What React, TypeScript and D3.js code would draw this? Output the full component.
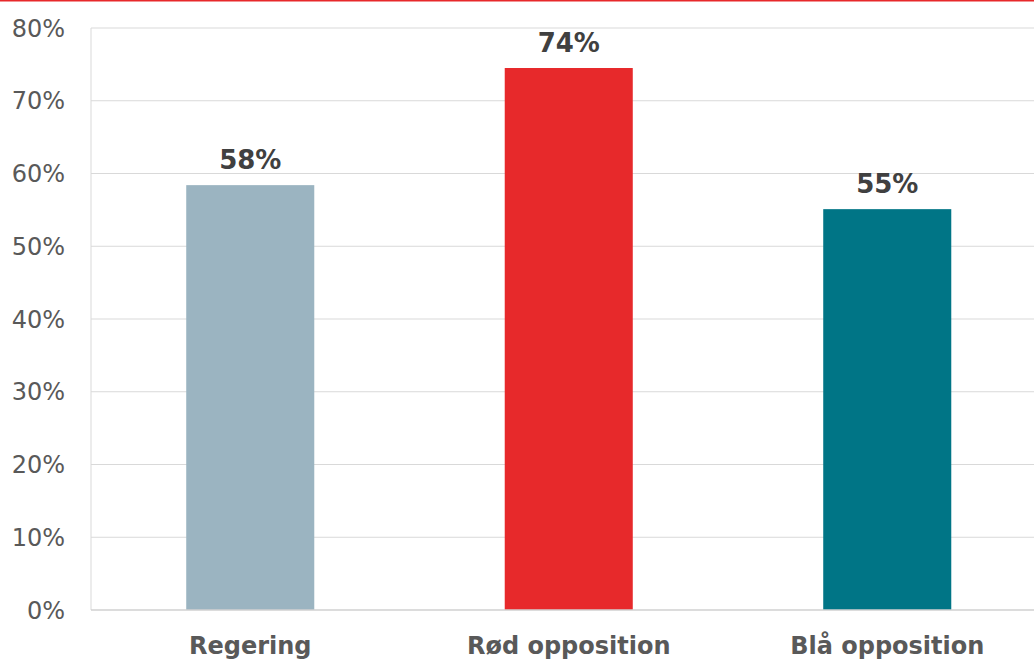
import React from "react";
import * as d3 from "d3";

const categories = ["Regering", "Rød opposition", "Blå opposition"];
const values = [58.4, 74.5, 55.1];
const valueLabels = ["58%", "74%", "55%"];
const colors = ["#9BB4C1", "#E7292B", "#007586"];
const yTicks = [0, 10, 20, 30, 40, 50, 60, 70, 80];

export default function App() {
  const W = 1034, H = 662;
  const left = 91, right = 1046.5, top = 28, bottom = 610;
  const x = d3.scaleBand<string>().domain(categories).range([left, right]).paddingInner(0.598).paddingOuter(0.299);
  const y = d3.scaleLinear().domain([0, 80]).range([bottom, top]);
  const font = "Tahoma, 'DejaVu Sans', Verdana, sans-serif";
  return (
    <svg width={W} height={H} style={{ position: "absolute", left: 0, top: 0 }}>
      <rect x={0} y={0} width={W} height={H} fill="#fff" />
      <line x1={0} x2={W} y1={0.75} y2={0.75} stroke="#E7292B" strokeWidth={1.5} />
      {yTicks.map((t) => (
        <g key={t}>
          {t > 0 && (
            <line x1={left} x2={W} y1={y(t)} y2={y(t)} stroke="#D9D9D9" strokeWidth={1} />
          )}
          <text x={65} y={y(t)} dy="0.36em" textAnchor="end" fontFamily={font} fontSize={24} fill="#595959">
            {t}%
          </text>
        </g>
      ))}
      <line x1={left} x2={left} y1={top} y2={bottom} stroke="#D9D9D9" />
      {categories.map((c, i) => (
        <g key={c}>
          <rect x={x(c)} y={y(values[i])} width={x.bandwidth()} height={bottom - y(values[i])} fill={colors[i]} />
          <text x={(x(c) as number) + x.bandwidth() / 2} y={y(values[i]) - 16} textAnchor="middle" fontFamily={font} fontWeight="bold" fontSize={26} fill="#404040">
            {valueLabels[i]}
          </text>
          <text x={(x(c) as number) + x.bandwidth() / 2} y={654} textAnchor="middle" fontFamily={font} fontWeight="bold" fontSize={24} fill="#595959">
            {c}
          </text>
        </g>
      ))}
      <line x1={left} x2={W} y1={bottom} y2={bottom} stroke="#D0D0D0" strokeWidth={1.5} />
    </svg>
  );
}
